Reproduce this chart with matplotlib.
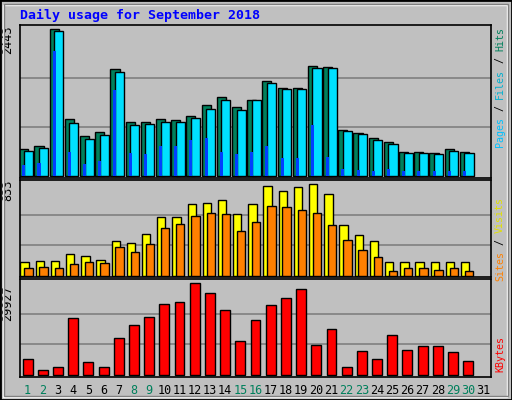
import numpy as np
import matplotlib.pyplot as plt
from matplotlib.patches import Rectangle

days = list(range(1, 32))
weekend = [1, 2, 8, 9, 15, 16, 22, 23, 29, 30]

hits = [448, 498, 2443, 946, 664, 730, 1776, 896, 896, 946, 930, 996, 1179, 1311, 1145,
        1262, 1577, 1461, 1461, 1826, 1809, 764, 714, 631, 564, 398, 398, 382, 448, 398, 0]
files = [410, 460, 2400, 880, 610, 680, 1720, 840, 860, 900, 890, 960, 1120, 1270, 1100,
         1262, 1540, 1440, 1440, 1800, 1800, 740, 690, 600, 530, 380, 380, 370, 420, 380, 0]
pages = [180, 210, 2075, 400, 200, 250, 1430, 390, 370, 500, 490, 590, 630, 400, 360,
         400, 500, 300, 300, 850, 320, 120, 100, 90, 110, 90, 80, 80, 90, 80, 0]
visits = [127, 136, 136, 199, 181, 145, 317, 299, 380, 534, 534, 652, 661, 688, 561,
          652, 815, 769, 806, 833, 742, 462, 371, 317, 127, 127, 127, 127, 127, 127, 0]
sites = [72, 81, 72, 109, 127, 118, 262, 217, 290, 434, 470, 543, 570, 561, 407,
         489, 633, 624, 597, 570, 462, 326, 235, 172, 45, 72, 72, 54, 72, 45, 0]
kbytes = [5260, 1500, 2500, 18400, 4300, 2500, 12200, 16300, 18900, 23200, 23900, 29927,
          26800, 21200, 11000, 17900, 22700, 25000, 28000, 9600, 15000, 2500, 7700, 5200,
          13100, 8000, 9300, 9300, 7400, 4600, 0]

W, H = 512, 400
fig = plt.figure(figsize=(W / 100, H / 100), dpi=100, facecolor='#c0c0c0')
mono = 'DejaVu Sans Mono'

# raised frame
fig.add_artist(Rectangle((0, 0), 1, 1, transform=fig.transFigure, fill=False, ec='black', lw=2))
fig.add_artist(Rectangle((3 / W, 3 / H), 1 - 8 / W, 1 - 8 / H, transform=fig.transFigure,
                         fill=False, ec='white', lw=1))
fig.add_artist(Rectangle((4 / W, 4 / H), 1 - 8 / W, 1 - 8 / H, transform=fig.transFigure,
                         fill=False, ec='#808080', lw=1))


def panel(top, bottom, ylim):
    ax = fig.add_axes([20 / W, 1 - bottom / H, 471 / W, (bottom - top) / H])
    ax.set_facecolor('#c0c0c0')
    ax.set_xlim(0.5, 31.5)
    ax.set_ylim(*ylim)
    ax.set_xticks([])
    ax.set_yticks([])
    for s in ax.spines.values():
        s.set_color('black')
        s.set_linewidth(1.2)
    return ax


def grid(ax, top):
    for f in (1 / 3, 2 / 3):
        ax.axhline(top * f, color='#808080', lw=1.2, zorder=0)


def nz(vals):
    v = np.array(vals, dtype=float)
    m = v > 0
    return np.array(days)[m], v[m]


bk = dict(edgecolor='black', linewidth=1)

ax1 = panel(25, 178, (-33, 2507))
grid(ax1, 2443)
xx, v = nz(hits)
ax1.bar(xx - 0.25, v, width=0.6, color='#00805c', **bk)
xx, v = nz(files)
ax1.bar(xx + 0.05, v, width=0.6, color='#00e0ff', **bk)
xx, v = nz(pages)
ax1.bar(xx - 0.25, v, width=0.2, color='#0040ff', linewidth=0)
ax1.text(-0.012, 1.0, '2443', transform=ax1.transAxes, rotation=90, ha='right', va='top',
         family=mono, fontsize=8.5)

ax2 = panel(180, 277, (-9, 869))
grid(ax2, 833)
xx, v = nz(visits)
ax2.bar(xx - 0.2, v, width=0.55, color='#ffff00', **bk)
xx, v = nz(sites)
ax2.bar(xx + 0.05, v, width=0.55, color='#ff8000', **bk)
ax2.text(-0.012, 1.0, '833', transform=ax2.transAxes, rotation=90, ha='right', va='top',
         family=mono, fontsize=8.5)

ax3 = panel(279, 377, (-658, 31255))
grid(ax3, 29927)
xx, v = nz(kbytes)
ax3.bar(xx, v, width=0.65, color='#ff0000', **bk)
ax3.text(-0.012, 0.93, '29927', transform=ax3.transAxes, rotation=90, ha='right', va='top',
         family=mono, fontsize=8.5)

for d in days:
    ax3.text(d, -0.07, str(d), transform=ax3.get_xaxis_transform(), ha='center', va='top',
             family=mono, fontsize=8.5, color='#00805c' if d in weekend else 'black')

fig.text(20 / W, 1 - 15 / H, 'Daily usage for September 2018', family=mono, fontsize=9.5,
         fontweight='bold', color='#0000ff', va='center')

CH = 6.0  # px per character of the side labels


def side(top_px, parts):
    yy = top_px
    for txt, col in parts:
        fig.text(495 / W, 1 - yy / H, txt, rotation=90, ha='left', va='top',
                 family=mono, fontsize=7.2, color=col)
        yy += len(txt) * CH


side(27, [('Hits', '#00805c'), (' / ', 'black'), ('Files', '#00b0d0'), (' / ', 'black'),
          ('Pages', '#00c0ff')])
side(197, [('Visits', '#e0e000'), (' / ', 'black'), ('Sites', '#ff8000')])
side(336, [('KBytes', '#ff0000')])

fig.savefig('out.png', dpi=100, facecolor=fig.get_facecolor())
